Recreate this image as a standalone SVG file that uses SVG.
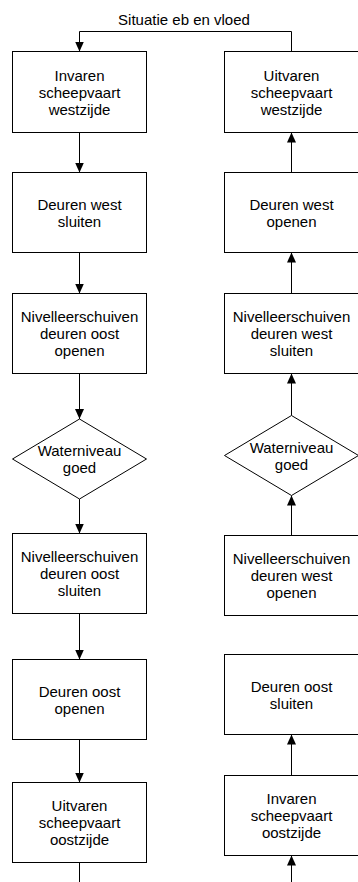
<svg xmlns="http://www.w3.org/2000/svg" width="358" height="882" viewBox="0 0 358 882">
  <style>
    .box { fill: #ffffff; stroke: #000000; stroke-width: 1; }
    .edge { fill: none; stroke: #000000; stroke-width: 1; }
    .lbl { font-family: "Liberation Sans", Arial, sans-serif; font-size: 15px; fill: #000000; text-anchor: middle; }
  </style>
  <defs>
    <marker id="arrow" markerUnits="userSpaceOnUse" markerWidth="10" markerHeight="10" refX="10" refY="4.5" orient="auto" viewBox="0 0 10 9">
      <path d="M0,0 L10,4.5 L0,9 z" fill="#000000"/>
    </marker>
  </defs>

  <rect width="358" height="882" fill="#ffffff"/>

  <!-- connectors -->
  <g id="connectors">
    <!-- loop back from east-west exit to west entry -->
    <path class="edge" d="M291.5,51.5 V31.5 H79.5 V51.5" marker-end="url(#arrow)"/>
    <!-- left column, flowing down -->
    <path class="edge" d="M79.5,132.5 V172.5" marker-end="url(#arrow)"/>
    <path class="edge" d="M79.5,252.5 V293.5" marker-end="url(#arrow)"/>
    <path class="edge" d="M79.5,373.5 V419" marker-end="url(#arrow)"/>
    <path class="edge" d="M79.5,499 V533.5" marker-end="url(#arrow)"/>
    <path class="edge" d="M79.5,613.5 V659.5" marker-end="url(#arrow)"/>
    <path class="edge" d="M79.5,739.5 V782.5" marker-end="url(#arrow)"/>
    <path class="edge" d="M79.5,862.5 V882"/>
    <!-- right column, flowing up -->
    <path class="edge" d="M291.5,882 V855.5" marker-end="url(#arrow)"/>
    <path class="edge" d="M291.5,775.5 V734.5" marker-end="url(#arrow)"/>
    <path class="edge" d="M291.5,535.5 V495.5" marker-end="url(#arrow)"/>
    <path class="edge" d="M291.5,415.5 V373.5" marker-end="url(#arrow)"/>
    <path class="edge" d="M291.5,293.5 V252.5" marker-end="url(#arrow)"/>
    <path class="edge" d="M291.5,172.5 V132.5" marker-end="url(#arrow)"/>
  </g>

  <text class="lbl" x="184" y="25">Situatie eb en vloed</text>

  <!-- left column -->
  <g id="invaren-west">
    <rect class="box" x="12.5" y="51.5" width="134" height="81"/>
    <text class="lbl" x="79.5" y="80.5">Invaren</text>
    <text class="lbl" x="79.5" y="97.5">scheepvaart</text>
    <text class="lbl" x="79.5" y="114.5">westzijde</text>
  </g>
  <g id="deuren-west-sluiten">
    <rect class="box" x="12.5" y="172.5" width="134" height="80"/>
    <text class="lbl" x="79.5" y="209.5">Deuren west</text>
    <text class="lbl" x="79.5" y="226.5">sluiten</text>
  </g>
  <g id="nivelleer-oost-openen">
    <rect class="box" x="12.5" y="293.5" width="134" height="80"/>
    <text class="lbl" x="79.5" y="322">Nivelleerschuiven</text>
    <text class="lbl" x="79.5" y="339">deuren oost</text>
    <text class="lbl" x="79.5" y="356">openen</text>
  </g>
  <g id="waterniveau-links">
    <polygon class="box" points="79.5,419 146.5,459 79.5,499 12.5,459"/>
    <text class="lbl" x="79.5" y="456">Waterniveau</text>
    <text class="lbl" x="79.5" y="473">goed</text>
  </g>
  <g id="nivelleer-oost-sluiten">
    <rect class="box" x="12.5" y="533.5" width="134" height="80"/>
    <text class="lbl" x="79.5" y="562">Nivelleerschuiven</text>
    <text class="lbl" x="79.5" y="579">deuren oost</text>
    <text class="lbl" x="79.5" y="596">sluiten</text>
  </g>
  <g id="deuren-oost-openen">
    <rect class="box" x="12.5" y="659.5" width="134" height="80"/>
    <text class="lbl" x="79.5" y="696.5">Deuren oost</text>
    <text class="lbl" x="79.5" y="713.5">openen</text>
  </g>
  <g id="uitvaren-oost">
    <rect class="box" x="12.5" y="782.5" width="134" height="80"/>
    <text class="lbl" x="79.5" y="811">Uitvaren</text>
    <text class="lbl" x="79.5" y="828">scheepvaart</text>
    <text class="lbl" x="79.5" y="845">oostzijde</text>
  </g>

  <!-- right column -->
  <g id="uitvaren-west">
    <rect class="box" x="224.5" y="51.5" width="134" height="81"/>
    <text class="lbl" x="291.5" y="80.5">Uitvaren</text>
    <text class="lbl" x="291.5" y="97.5">scheepvaart</text>
    <text class="lbl" x="291.5" y="114.5">westzijde</text>
  </g>
  <g id="deuren-west-openen">
    <rect class="box" x="224.5" y="172.5" width="134" height="80"/>
    <text class="lbl" x="291.5" y="209.5">Deuren west</text>
    <text class="lbl" x="291.5" y="226.5">openen</text>
  </g>
  <g id="nivelleer-west-sluiten">
    <rect class="box" x="224.5" y="293.5" width="134" height="80"/>
    <text class="lbl" x="291.5" y="322">Nivelleerschuiven</text>
    <text class="lbl" x="291.5" y="339">deuren west</text>
    <text class="lbl" x="291.5" y="356">sluiten</text>
  </g>
  <g id="waterniveau-rechts">
    <polygon class="box" points="291.5,415.5 358.5,455.5 291.5,495.5 224.5,455.5"/>
    <text class="lbl" x="291.5" y="452.5">Waterniveau</text>
    <text class="lbl" x="291.5" y="469.5">goed</text>
  </g>
  <g id="nivelleer-west-openen">
    <rect class="box" x="224.5" y="535.5" width="134" height="80"/>
    <text class="lbl" x="291.5" y="564">Nivelleerschuiven</text>
    <text class="lbl" x="291.5" y="581">deuren west</text>
    <text class="lbl" x="291.5" y="598">openen</text>
  </g>
  <g id="deuren-oost-sluiten">
    <rect class="box" x="224.5" y="654.5" width="134" height="80"/>
    <text class="lbl" x="291.5" y="691.5">Deuren oost</text>
    <text class="lbl" x="291.5" y="708.5">sluiten</text>
  </g>
  <g id="invaren-oost">
    <rect class="box" x="224.5" y="775.5" width="134" height="80"/>
    <text class="lbl" x="291.5" y="804">Invaren</text>
    <text class="lbl" x="291.5" y="821">scheepvaart</text>
    <text class="lbl" x="291.5" y="838">oostzijde</text>
  </g>
</svg>
